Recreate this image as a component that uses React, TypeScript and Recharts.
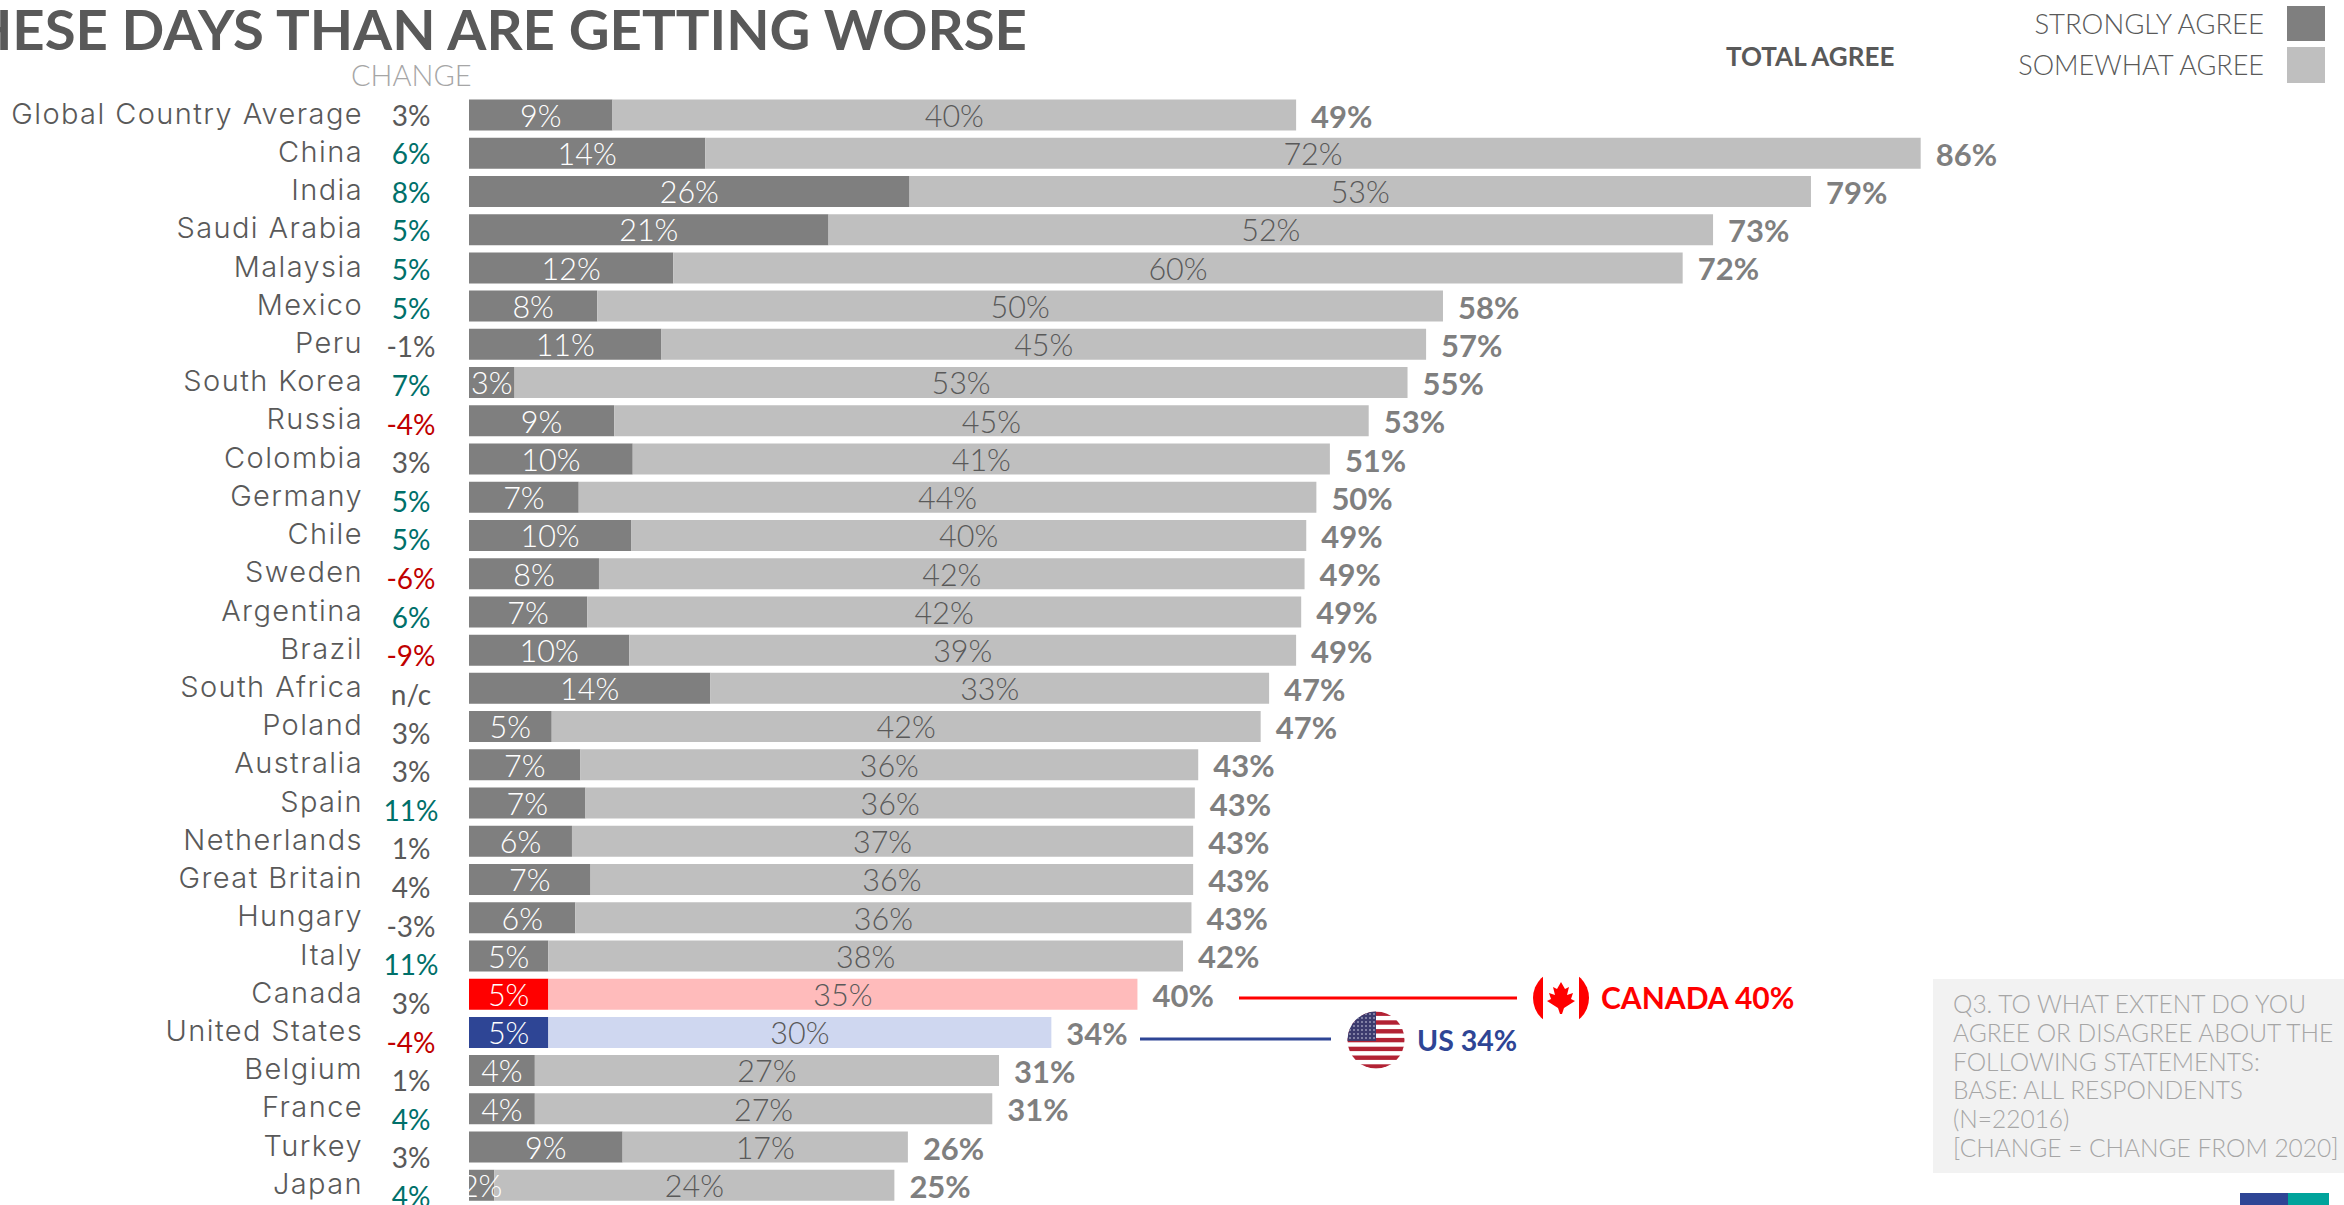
import React from "react";
import { BarChart, Bar, XAxis, YAxis, Cell, LabelList } from "recharts";

const countries = ["Global Country Average", "China", "India", "Saudi Arabia", "Malaysia", "Mexico", "Peru", "South Korea", "Russia", "Colombia", "Germany", "Chile", "Sweden", "Argentina", "Brazil", "South Africa", "Poland", "Australia", "Spain", "Netherlands", "Great Britain", "Hungary", "Italy", "Canada", "United States", "Belgium", "France", "Turkey", "Japan"];
const changes = ["3%", "6%", "8%", "5%", "5%", "5%", "-1%", "7%", "-4%", "3%", "5%", "5%", "-6%", "6%", "-9%", "n/c", "3%", "3%", "11%", "1%", "4%", "-3%", "11%", "3%", "-4%", "1%", "4%", "3%", "4%"];
// bar lengths as measured, the printed labels are rounded differently in the source
const strongly = [8.5, 14, 26.1, 21.3, 12.1, 7.6, 11.4, 2.7, 8.6, 9.7, 6.5, 9.6, 7.7, 7, 9.5, 14.3, 4.9, 6.6, 6.9, 6.1, 7.2, 6.3, 4.7, 4.7, 4.7, 3.9, 3.9, 9.1, 1.5];
const totals = [49, 86, 79.5, 73.7, 71.9, 57.7, 56.7, 55.6, 53.3, 51, 50.2, 49.6, 49.5, 49.3, 49, 47.4, 46.9, 43.2, 43, 42.9, 42.9, 42.8, 42.3, 39.6, 34.5, 31.4, 31, 26, 25.2];
const stronglyLabels = [9, 14, 26, 21, 12, 8, 11, 3, 9, 10, 7, 10, 8, 7, 10, 14, 5, 7, 7, 6, 7, 6, 5, 5, 5, 4, 4, 9, 2];
const somewhatLabels = [40, 72, 53, 52, 60, 50, 45, 53, 45, 41, 44, 40, 42, 42, 39, 33, 42, 36, 36, 37, 36, 36, 38, 35, 30, 27, 27, 17, 24];
const totalLabels = [49, 86, 79, 73, 72, 58, 57, 55, 53, 51, 50, 49, 49, 49, 49, 47, 47, 43, 43, 43, 43, 43, 42, 40, 34, 31, 31, 26, 25];
const risers = ["China", "India", "Saudi Arabia", "Malaysia", "Mexico", "South Korea", "Germany", "Chile", "Argentina", "Spain", "Italy", "France", "Japan"];
const fallers = ["Russia", "Sweden", "Brazil", "United States"];
const noteLines = ["Q3. TO WHAT EXTENT DO YOU", "AGREE OR DISAGREE ABOUT THE", "FOLLOWING STATEMENTS:", "BASE: ALL RESPONDENTS", "(N=22016)", "[CHANGE = CHANGE FROM 2020]"];

const FONT = "Lato, sans-serif";
const DARK = "#7f7f7f";
const LIGHT = "#bfbfbf";
const TEXT = "#595959";
const RED = "#ff0000";
const BLUE = "#2e4595";
const FLAG_RED = "#b22234";

const table = countries.map((country, i) => ({
  country,
  strong: strongly[i],
  somewhat: +(totals[i] - strongly[i]).toFixed(1),
  strongLabel: stronglyLabels[i] + "%",
  somewhatLabel: somewhatLabels[i] + "%",
  totalLabel: totalLabels[i] + "%",
}));

const darkFill = (c: string) => (c === "Canada" ? RED : c === "United States" ? BLUE : DARK);
const lightFill = (c: string) => (c === "Canada" ? "#ffbbbb" : c === "United States" ? "#cfd7f0" : LIGHT);
const changeFill = (c: string) => (risers.includes(c) ? "#00706a" : fallers.includes(c) ? "#c00000" : TEXT);

const CountryTick = ({ y, payload, index }: any) => (
  <g>
    <text x={363} y={y + 9} textAnchor="end" fontFamily="Inter, sans-serif" fontWeight={300} fontSize={29} letterSpacing={1.4} fill={TEXT}>{payload.value}</text>
    <text x={411} y={y + 11 + index * 0.4} textAnchor="middle" fontFamily={FONT} fontSize={28} fill={changeFill(payload.value)}>{changes[index]}</text>
  </g>
);

const Overlay = () => (
  <svg width={2344} height={1205} style={{ position: "absolute", left: 0, top: 0 }} fontFamily={FONT}>
    <text x={1027} y={50} textAnchor="end" fontSize={56.3} fontWeight={700} fill={TEXT}>THESE DAYS THAN ARE GETTING WORSE</text>
    <text x={351} y={86} fontSize={29} fontWeight={300} fill="#a6a6a6">CHANGE</text>
    <text x={1726} y={66} fontSize={26} fontWeight={700} fill={TEXT}>TOTAL AGREE</text>

    <text x={2264} y={34} textAnchor="end" fontSize={27.5} fontWeight={300} fill={TEXT}>STRONGLY AGREE</text>
    <rect x={2287} y={6} width={38} height={35} fill={DARK} />
    <text x={2264} y={75} textAnchor="end" fontSize={27} fontWeight={300} fill={TEXT}>SOMEWHAT AGREE</text>
    <rect x={2287} y={47} width={38} height={36} fill={LIGHT} />

    <line x1={1239} x2={1517} y1={998} y2={998} stroke={RED} strokeWidth={3} />
    <clipPath id="caFlag"><circle cx={1561} cy={998} r={28} /></clipPath>
    <g clipPath="url(#caFlag)">
      <rect x={1533} y={970} width={10} height={56} fill={RED} />
      <rect x={1579} y={970} width={10} height={56} fill={RED} />
      <polygon points="1561,982 1565,989 1569,987 1567,995 1573,993 1571,999 1575,1001 1564,1008 1562,1014 1560,1014 1558,1008 1547,1001 1551,999 1549,993 1555,995 1553,987 1557,989" fill={RED} />
    </g>
    <text x={1601} y={1009} fontSize={30} fontWeight={700} fill={RED}>CANADA 40%</text>

    <line x1={1140} x2={1331} y1={1039} y2={1039} stroke={BLUE} strokeWidth={3} />
    <clipPath id="usFlag"><circle cx={1376} cy={1040} r={28.5} /></clipPath>
    <g clipPath="url(#usFlag)">
      <rect x={1347} y={1011} width={58} height={58} fill="#ffffff" />
      {[0, 1, 2, 3, 4, 5, 6].map((n) => (
        <rect key={n} x={1347} y={1011.5 + n * 8.8} width={58} height={4.4} fill={FLAG_RED} />
      ))}
      <rect x={1347} y={1011} width={29} height={30} fill="#3c3b6e" />
      <rect x={1347} y={1011} width={29} height={30} fill="url(#stars)" />
    </g>
    <pattern id="stars" width={4} height={4} patternUnits="userSpaceOnUse">
      <circle cx={2} cy={2} r={0.8} fill="#d8d8e8" />
    </pattern>
    <text x={1417} y={1051} fontSize={28.5} fontWeight={700} fill={BLUE}>US 34%</text>

    <rect x={1933} y={979} width={411} height={194} fill="#f2f2f2" />
    {noteLines.map((line, i) => (
      <text key={line} x={1953} y={1013 + i * 28.8} fontSize={24.5} fontWeight={300} fill="#a6a6a6">{line}</text>
    ))}

    <rect x={2240} y={1193} width={48} height={12} fill={BLUE} />
    <rect x={2288} y={1193} width={41} height={12} fill="#00a39b" />
  </svg>
);

export default function App() {
  return (
    <div style={{ position: "absolute", left: 0, top: 0, width: 2344, height: 1205, overflow: "hidden", background: "#fff" }}>
      <BarChart
        width={2344}
        height={1205}
        data={table}
        layout="vertical"
        barSize={31}
        margin={{ top: 95.5, right: 187, bottom: 1, left: 0 }}
      >
        <XAxis type="number" domain={[0, 100]} hide />
        <YAxis type="category" dataKey="country" width={469} interval={0} axisLine={false} tickLine={false} tick={CountryTick} />
        <Bar dataKey="strong" stackId="a" isAnimationActive={false}>
          {table.map((d) => <Cell key={d.country} fill={darkFill(d.country)} />)}
          <LabelList dataKey="strongLabel" position="center" fill="#ffffff" fontFamily={FONT} fontWeight={300} fontSize={30.5} dy={1} />
        </Bar>
        <Bar dataKey="somewhat" stackId="a" isAnimationActive={false}>
          {table.map((d) => <Cell key={d.country} fill={lightFill(d.country)} />)}
          <LabelList dataKey="somewhatLabel" position="center" fill={TEXT} fontFamily={FONT} fontWeight={300} fontSize={30.5} dy={1} />
          <LabelList dataKey="totalLabel" position="right" offset={15} fill={DARK} fontFamily={FONT} fontWeight={700} fontSize={31} dy={1.5} />
        </Bar>
      </BarChart>
      <Overlay />
    </div>
  );
}
